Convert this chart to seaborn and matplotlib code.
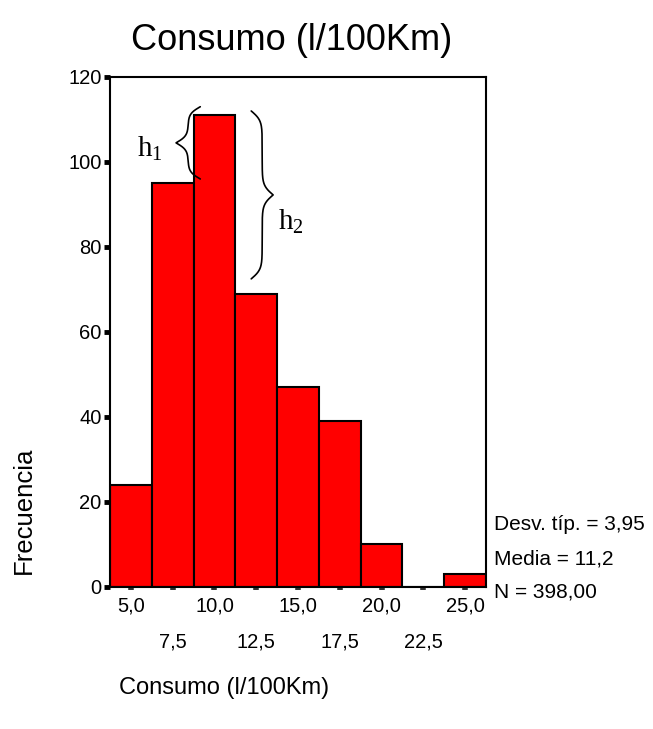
import numpy as np
import matplotlib
matplotlib.use("Agg")
import matplotlib.pyplot as plt
import seaborn as sns

# Histogram data (bin centres, counts)
bin_centers = [5.0, 7.5, 10.0, 12.5, 15.0, 17.5, 20.0, 22.5, 25.0]
counts = [24, 95, 111, 69, 47, 39, 10, 0, 3]
bin_width = 2.5

major_ticks = [5.0, 10.0, 15.0, 20.0, 25.0]
minor_ticks = [7.5, 12.5, 17.5, 22.5]
y_ticks = [0, 20, 40, 60, 80, 100, 120]

title = "Consumo (l/100Km)"
x_label = "Consumo (l/100Km)"
y_label = "Frecuencia"
stats_lines = ["Desv. típ. = 3,95", "Media = 11,2", "N = 398,00"]

edges = [c - bin_width / 2 for c in bin_centers] + [bin_centers[-1] + bin_width / 2]


def comma(v):
    return f"{v:.1f}".replace(".", ",")


def draw_brace(ax, x_end, y0, y1, width, side, beta=1.2):
    # curly brace along y, ends at x_end, tip pointing to `side`
    n = 301
    y = np.linspace(y0, y1, n)
    half = y[: n // 2 + 1]
    shape = (1 / (1 + np.exp(-beta * (half - half[0])))
             + 1 / (1 + np.exp(-beta * (half - half[-1]))))
    full = np.concatenate([shape, shape[-2::-1]])
    x = x_end + side * (full - 0.5) * width
    ax.plot(x, y, color="black", lw=1.2, solid_capstyle="round")


sns.set_style("white")
plt.rcParams["font.family"] = ["Liberation Sans", "DejaVu Sans"]
plt.rcParams["text.color"] = "black"
plt.rcParams["xtick.labelcolor"] = "black"
plt.rcParams["ytick.labelcolor"] = "black"

fig = plt.figure(figsize=(6.53, 7.29), dpi=100)
ax = fig.add_axes([0.1685, 0.1948, 0.5758, 0.6996])

sns.histplot(x=bin_centers, weights=counts, bins=edges, stat="count",
             color="#ff0000", edgecolor="black", linewidth=1.5, alpha=1, ax=ax)

ax.set_xlim(edges[0], edges[-1])
ax.set_ylim(0, 120)
ax.set_xlabel("")
ax.set_ylabel("")

for s in ax.spines.values():
    s.set_visible(True)
    s.set_linewidth(1.5)
    s.set_color("black")

ax.set_yticks(y_ticks)
ax.set_yticklabels([str(v) for v in y_ticks])
ax.tick_params(axis="y", direction="out", length=4, width=3.5, color="black",
               labelcolor="black", labelsize=14.5, pad=2, left=True)

ax.set_xticks(major_ticks)
ax.set_xticklabels([comma(v) for v in major_ticks])
ax.set_xticks(minor_ticks, minor=True)
ax.set_xticklabels([comma(v) for v in minor_ticks], minor=True)
ax.tick_params(axis="x", which="both", direction="out", length=2, width=4,
               color="#333333", labelcolor="black", labelsize=14.5, bottom=True)
ax.tick_params(axis="x", which="major", pad=4.5)
ax.tick_params(axis="x", which="minor", pad=30.5)

# braces marking h1 and h2
draw_brace(ax, edges[2] + 0.4, counts[1] + 1, counts[2] + 2, 1.45, -1)
draw_brace(ax, edges[3] + 0.95, counts[3] + 3.5, counts[2] + 1, 1.31, 1, beta=0.9)
ax.text(6.9, 103.0, r"$\mathregular{h_1}$", family="Liberation Serif",
        fontsize=21, ha="right", va="center", color="black")
ax.text(13.8, 86, r"$\mathregular{h_2}$", family="Liberation Serif",
        fontsize=21, ha="left", va="center", color="black")

fig.text(0.447, 0.945, title, fontsize=26, ha="center", va="center", color="black")
fig.text(0.343, 0.056, x_label, fontsize=17, ha="center", va="center", color="black")
fig.text(0.037, 0.30, y_label, fontsize=18.5, rotation=90, ha="center", va="center",
         color="black")

for line, yy in zip(stats_lines, [0.280, 0.233, 0.188]):
    fig.text(0.7565, yy, line, fontsize=15, ha="left", va="center", color="black")

fig.savefig("out.png", dpi=100)
